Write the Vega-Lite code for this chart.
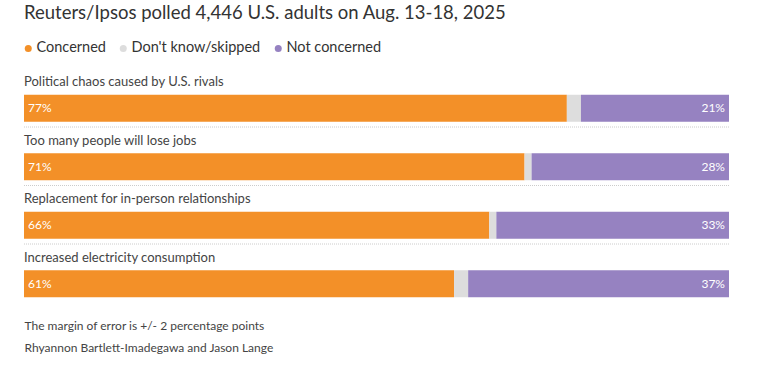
{
  "$schema": "https://vega.github.io/schema/vega-lite/v6.json",
  "width": 705,
  "height": 234,
  "autosize": "none",
  "padding": {"left": 24, "top": 75, "right": 49, "bottom": 58},
  "background": "white",
  "config": {"view": {"stroke": null}, "font": "Lato"},
  "title": {"text": "Reuters/Ipsos polled 4,446 U.S. adults on Aug. 13-18, 2025", "anchor": "start", "frame": "group", "fontSize": 18.5, "fontWeight": "normal", "color": "#333333", "offset": 19},
  "data": {"values": [
    {"q": "Political chaos caused by U.S. rivals", "r": "Concerned", "v": 0.77},
    {"q": "Political chaos caused by U.S. rivals", "r": "Don't know/skipped", "v": 0.02},
    {"q": "Political chaos caused by U.S. rivals", "r": "Not concerned", "v": 0.21},
    {"q": "Too many people will lose jobs", "r": "Concerned", "v": 0.71},
    {"q": "Too many people will lose jobs", "r": "Don't know/skipped", "v": 0.01},
    {"q": "Too many people will lose jobs", "r": "Not concerned", "v": 0.28},
    {"q": "Replacement for in-person relationships", "r": "Concerned", "v": 0.66},
    {"q": "Replacement for in-person relationships", "r": "Don't know/skipped", "v": 0.01},
    {"q": "Replacement for in-person relationships", "r": "Not concerned", "v": 0.33},
    {"q": "Increased electricity consumption", "r": "Concerned", "v": 0.61},
    {"q": "Increased electricity consumption", "r": "Don't know/skipped", "v": 0.02},
    {"q": "Increased electricity consumption", "r": "Not concerned", "v": 0.37}
  ]},
  "encoding": {
    "y": {"field": "q", "type": "nominal", "sort": null, "axis": null, "scale": {"paddingInner": 0, "paddingOuter": 0}}
  },
  "layer": [
    {
      "mark": {"type": "bar", "height": 27, "yOffset": 4},
      "encoding": {
        "x": {"field": "v", "type": "quantitative", "stack": "zero", "scale": {"domain": [0, 1], "nice": false},
          "axis": {"labels": false, "ticks": false, "domain": false, "grid": false,
            "title": ["The margin of error is +/- 2 percentage points", "Rhyannon Bartlett-Imadegawa and Jason Lange"],
            "titleAnchor": "start", "titleAlign": "left", "titleX": 0, "titleY": 20, "titleBaseline": "alphabetic",
            "titleFontSize": 12, "titleFontWeight": "normal", "titleColor": "#444444", "titleLineHeight": 22}},
        "color": {"field": "r", "type": "nominal", "sort": ["Concerned", "Don't know/skipped", "Not concerned"],
          "scale": {"domain": ["Concerned", "Don't know/skipped", "Not concerned"], "range": ["#F39028", "#DDDDDD", "#9682C1"]},
          "legend": {"orient": "none", "legendX": -3, "legendY": -34, "direction": "horizontal", "title": null,
            "symbolType": "circle", "symbolSize": 49, "labelFontSize": 14.5, "labelColor": "#333333", "labelOffset": 1, "columnPadding": 10}},
        "order": {"field": "r", "sort": "ascending"}
      }
    },
    {
      "transform": [{"filter": "datum.r === 'Concerned'"}],
      "mark": {"type": "text", "align": "left", "baseline": "middle", "yOffset": -22, "fontSize": 13, "color": "#444444"},
      "encoding": {"x": {"datum": 0}, "text": {"field": "q"}}
    },
    {
      "transform": [{"filter": "datum.r === 'Concerned' && datum.q !== 'Increased electricity consumption'"}],
      "mark": {"type": "rule", "strokeDash": [1, 1], "color": "#cccccc", "strokeWidth": 1, "yOffset": 22.75},
      "encoding": {"x": {"datum": 0}, "x2": {"datum": 1}}
    },
    {
      "transform": [{"filter": "datum.r === 'Concerned'"}],
      "mark": {"type": "text", "align": "left", "baseline": "middle", "yOffset": 4, "dx": 4, "fontSize": 12, "color": "white"},
      "encoding": {"x": {"datum": 0}, "text": {"field": "v", "format": ".0%"}}
    },
    {
      "transform": [{"filter": "datum.r === 'Not concerned'"}],
      "mark": {"type": "text", "align": "right", "baseline": "middle", "yOffset": 4, "dx": -4, "fontSize": 12, "color": "white"},
      "encoding": {"x": {"datum": 1}, "text": {"field": "v", "format": ".0%"}}
    }
  ]
}
